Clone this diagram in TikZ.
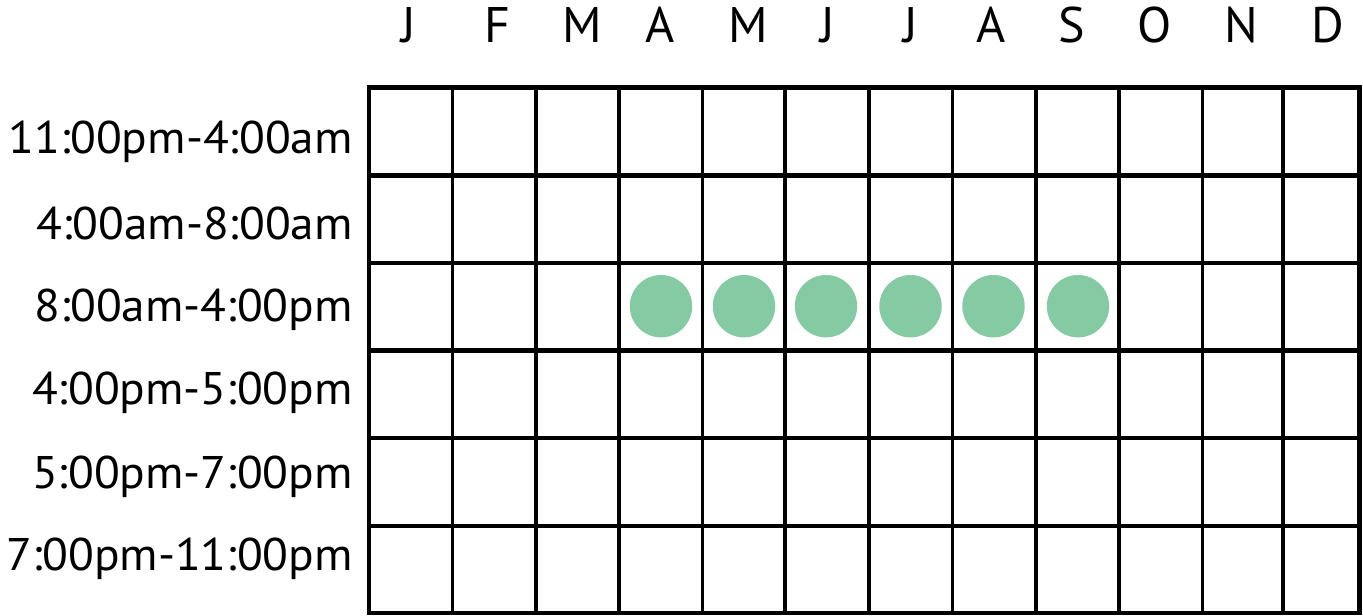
\documentclass[tikz,border=0pt]{standalone}
\usepackage{fontspec}
\setmainfont{PT Sans}
\definecolor{dotgreen}{HTML}{84CBA3}
\newcommand{\lbl}[1]{\scalebox{1.035}[1]{#1}}
\tikzset{
  rowlabel/.style={anchor=base east, inner sep=0pt, font=\fontsize{34.3pt}{36pt}\selectfont},
  monthlabel/.style={anchor=base, inner sep=0pt, font=\fontsize{37.5pt}{40pt}\selectfont},
  hline/.style={line width=3.3pt},
  vline/.style={line width=2.7pt},
  outline/.style={line width=3.3pt},
  dot/.style={circle, fill=dotgreen, minimum size=46.8pt, inner sep=0pt, draw=none}
}
\begin{document}
\begin{tikzpicture}[x=0.75pt, y=-0.75pt]
\useasboundingbox (0,0) rectangle (1363,616);
% grid coordinates
\foreach \n/\xx in {0/369,1/452.3,2/535.7,3/619,4/702.3,5/785,6/869,7/952.5,8/1035.7,9/1119,10/1202.3,11/1282.7,12/1359.5}
  {\coordinate (t\n) at (\xx,87.5); \coordinate (b\n) at (\xx,613);}
\foreach \n/\yy in {0/87.5,1/175.7,2/263,3/350.7,4/438,5/525.7,6/613}
  {\coordinate (l\n) at (369,\yy); \coordinate (r\n) at (1359.5,\yy);}
% inner verticals
\foreach \n in {1,...,11} \draw[vline] (t\n) -- (b\n);
% horizontals
\foreach \n in {1,...,5} \draw[hline] (l\n) -- (r\n);
% outer frame
\draw[outline] (l0) -- (r0) -- (r6) -- (l6) -- cycle;
% month labels
\foreach \n/\xx/\m in {1/409/J,2/497/F,3/582.5/M,4/660/A,5/748/M,6/828/J,7/911/J,8/991/A,9/1072/S,10/1155/O,11/1241/N,12/1328/D}
  \node[monthlabel] (m\n) at (\xx,43) {\m};
% row labels
\node[rowlabel] (r1lab) at (353,154) {\lbl{11:00pm-4:00am}};
\node[rowlabel] (r2lab) at (353,240) {\lbl{4:00am-8:00am}};
\node[rowlabel] (r3lab) at (353,322) {\lbl{8:00am-4:00pm}};
\node[rowlabel] (r4lab) at (353,404) {\lbl{4:00pm-5:00pm}};
\node[rowlabel] (r5lab) at (353,488) {\lbl{5:00pm-7:00pm}};
\node[rowlabel] (r6lab) at (353,570) {\lbl{7:00pm-11:00pm}};
% dots
\foreach \n/\xx in {1/661,2/744,3/826,4/910.5,5/993.5,6/1078}
  \node[dot] (d\n) at (\xx,306.2) {};
\end{tikzpicture}
\end{document}
